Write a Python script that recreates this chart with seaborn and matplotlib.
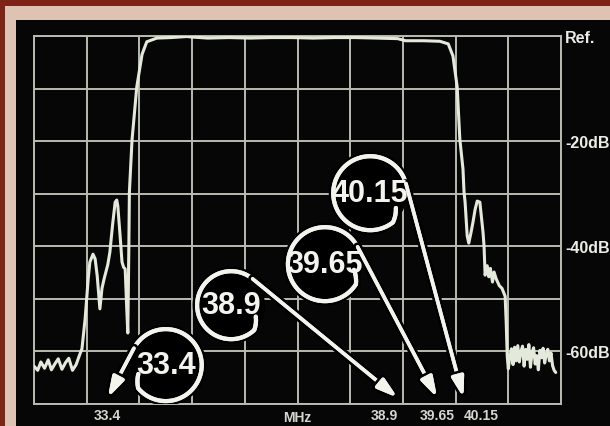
import numpy as np
import pandas as pd
import matplotlib
matplotlib.use("Agg")
import matplotlib.pyplot as plt
import matplotlib.patheffects as pe
from matplotlib.patches import Ellipse, Rectangle
import seaborn as sns

# ---------------- data ----------------
freq_mhz = [
    32.00, 32.07, 32.13, 32.20, 32.27, 32.33, 32.40, 32.46, 32.53, 32.60,
    32.66, 32.73, 32.80, 32.86, 32.91, 32.97, 33.03, 33.06, 33.12, 33.16,
    33.20, 33.25, 33.29, 33.33, 33.40, 33.44, 33.49, 33.54, 33.57, 33.59,
    33.63, 33.67, 33.70, 33.73, 33.76, 33.78, 33.80, 33.81, 33.86, 33.95,
    34.05, 34.14, 34.33, 34.60, 34.90, 35.00, 35.30, 35.70, 36.10, 36.50,
    36.90, 37.30, 37.70, 38.10, 38.50, 38.90, 39.05, 39.40, 39.70, 39.86,
    39.95, 40.03, 40.08, 40.14, 40.16, 40.18, 40.22, 40.25, 40.29, 40.33,
    40.37, 40.41, 40.46, 40.52, 40.54, 40.56, 40.60, 40.63, 40.66, 40.70,
    40.73, 40.77, 40.83, 40.88, 40.94, 40.96, 40.98, 41.00, 41.03, 41.06,
    41.09, 41.12, 41.15, 41.18, 41.21, 41.24, 41.27, 41.30, 41.33, 41.36,
    41.39, 41.42, 41.45, 41.48, 41.51, 41.54, 41.57, 41.60, 41.63, 41.66,
    41.69, 41.72, 41.75, 41.78, 41.81, 41.84, 41.87, 41.90,
]
level_db = [
    -62.8, -63.6, -62.0, -63.2, -61.6, -63.5, -62.3, -61.4, -63.4, -62.1,
    -61.3, -63.6, -62.5, -60.8, -59.5, -53.8, -46.0, -43.0, -41.5, -42.4,
    -45.7, -51.9, -48.0, -46.2, -43.5, -41.1, -36.0, -31.6, -31.2, -32.3,
    -37.5, -43.0, -44.0, -44.3, -51.9, -56.5, -40.0, -29.7, -19.8, -9.7,
    -3.5, -1.1, -0.4, -0.3, -0.1, -0.2, -0.4, -0.3, -0.4, -0.3,
    -0.3, -0.4, -0.3, -0.3, -0.4, -0.5, -0.9, -0.9, -1.0, -1.5,
    -3.8, -9.7, -19.6, -25.3, -29.7, -31.6, -38.0, -39.4, -37.5, -35.4,
    -33.0, -31.4, -31.6, -37.3, -40.0, -45.5, -43.7, -45.8, -44.2, -46.8,
    -44.9, -46.2, -47.5, -48.0, -49.5, -54.4, -60.9, -63.3, -61.0, -59.5,
    -62.5, -59.2, -61.8, -58.9, -62.0, -60.0, -59.0, -62.8, -59.6, -61.5,
    -58.7, -63.0, -60.2, -59.3, -62.4, -60.8, -63.5, -59.8, -61.2, -59.4,
    -62.2, -60.5, -59.6, -61.8, -60.3, -62.7, -63.6, -64.0,
]

tick_freqs = [33.4, 38.9, 39.65, 40.15]
tick_labels = ["33.4", "38.9", "39.65", "40.15"]
unit_label = "MHz"
level_ticks = [0, -20, -40, -60]
level_labels = ["Ref.", "-20dB", "-40dB", "-60dB"]

# call-out bubbles: text, frequency they point to, bubble centre (MHz, dB)
callout_text = ["33.4", "38.9", "39.65", "40.15"]
callout_target = [33.4, 38.9, 39.65, 40.15]
callout_cx = [34.50, 35.74, 37.52, 38.38]
callout_cy = [-62.6, -51.2, -43.4, -29.9]

# ---------------- style ----------------
sns.set_theme(style="dark")
plt.rcParams["font.family"] = ["Liberation Sans", "DejaVu Sans"]

GRID = "#b9bbb0"
TRACE = "#e4eadb"
WHITE = "#f4f4ee"
LABEL = "#d6d6d0"

fig = plt.figure(figsize=(6.10, 4.27), dpi=100, facecolor="#060606")
ax = fig.add_axes([34 / 610, 1 - 405 / 427, 527 / 610, 368 / 427])
ax.set_facecolor("#060606")

# photo frame (red edge + beige mask)
fig.patches.append(Rectangle((0, 0), 1, 1, transform=fig.transFigure,
                             facecolor="#7d2416", edgecolor="none", zorder=-10))
fig.patches.append(Rectangle((5 / 610, 0), 1, 1 - 7 / 427, transform=fig.transFigure,
                             facecolor="#dfc3b2", edgecolor="none", zorder=-9))
fig.patches.append(Rectangle((16 / 610, 0), 1, 1 - 21 / 427, transform=fig.transFigure,
                             facecolor="#060606", edgecolor="none", zorder=-8))

df = pd.DataFrame({"freq": freq_mhz, "level": level_db})
sns.lineplot(data=df, x="freq", y="level", ax=ax, color=TRACE, lw=2.2,
             estimator=None, sort=False, zorder=3)

ax.set_xlim(32, 42)
ax.set_ylim(-70, 0)
ax.set_xlabel("")
ax.set_ylabel("")

ax.set_xticks(np.arange(32, 43, 1))
ax.set_xticklabels([])
ax.set_xticks(tick_freqs, minor=True)
ax.set_xticklabels(tick_labels, minor=True)

yt = np.arange(-70, 1, 10)
ax.set_yticks(yt)
ax.set_yticklabels([level_labels[level_ticks.index(v)] if v in level_ticks else "" for v in yt])
ax.yaxis.tick_right()

ax.grid(True, which="major", color=GRID, lw=1.4)
ax.grid(False, which="minor")
ax.tick_params(which="major", length=0)
ax.tick_params(axis="x", which="minor", length=3, width=1.5, color=GRID, direction="in",
               labelsize=10, labelcolor=LABEL, pad=3)
label_align = ["center", "right", "center", "left"]
for lab, ha in zip(ax.get_xticklabels(minor=True), label_align):
    lab.set_fontweight("bold")
    lab.set_horizontalalignment(ha)
ax.tick_params(axis="y", which="major", labelsize=11.5, labelcolor="#ecece6", pad=3)
for lab in ax.get_yticklabels():
    lab.set_fontweight("bold")
for s in ax.spines.values():
    s.set_visible(True)
    s.set_color(GRID)
    s.set_linewidth(1.4)

ax.text(37.0, -0.015, unit_label, transform=ax.get_xaxis_transform(), ha="center", va="top",
        fontsize=10, fontweight="bold", color=LABEL)

# ---------------- call-out bubbles ----------------
radius_px = [36, 34, 37, 37]
hook_deg = [220, 313, 327, 308]
side = [-1, 1, 1, 1]

o = ax.transData.transform((0, 0))
sx = ax.transData.transform((1, 0))[0] - o[0]
sy = ax.transData.transform((0, 1))[1] - o[1]
halo = [pe.withStroke(linewidth=6.5, foreground="black"), pe.Normal()]

for txt, tgt, cx, cy, r, hk, sd in zip(callout_text, callout_target, callout_cx,
                                        callout_cy, radius_px, hook_deg, side):
    ty = -68.8
    P = np.array(ax.transData.transform((cx, cy)))
    T = np.array(ax.transData.transform((tgt, ty)))
    v = T - P
    d = np.hypot(v[0], v[1])
    phi = np.degrees(np.arctan2(v[1], v[0]))
    alpha = np.degrees(np.arccos(r / d))
    tang = phi + sd * alpha
    if sd > 0:
        a1, a2 = tang, hk
        while a2 < a1:
            a2 += 360
        ang = np.concatenate([np.linspace(a1, a2, 120), np.linspace(a2, a2 + 22, 12)])
        rad = np.concatenate([np.full(120, r), np.linspace(r, 0.8 * r, 12)])
    else:
        a1, a2 = hk, tang
        while a2 < a1:
            a2 += 360
        ang = np.concatenate([np.linspace(a1 - 22, a1, 12), np.linspace(a1, a2, 120)])
        rad = np.concatenate([np.linspace(0.8 * r, r, 12), np.full(120, r)])
    th = np.radians(ang)
    xs = cx + rad * np.cos(th) / sx
    ys = cy + rad * np.sin(th) / sy
    ax.add_patch(Ellipse((cx, cy), 2 * r / sx, 2 * r / sy, facecolor="black",
                         edgecolor="none", zorder=5))
    ln, = ax.plot(xs, ys, color=WHITE, lw=3.0, solid_capstyle="round", zorder=6)
    ln.set_path_effects(halo)
    tx0 = cx + r * np.cos(np.radians(tang)) / sx
    ty0 = cy + r * np.sin(np.radians(tang)) / sy
    ann = ax.annotate("", xy=(tgt, ty), xytext=(tx0, ty0),
                      arrowprops=dict(arrowstyle="-|>,head_length=1.0,head_width=0.3",
                                      color=WHITE, lw=2.6, shrinkA=0, shrinkB=0,
                                      mutation_scale=12),
                      zorder=6)
    ann.arrow_patch.set_path_effects(halo)
    ax.text(cx, cy, txt, ha="center", va="center", fontsize=22, fontweight="bold",
            color=WHITE, zorder=7)

fig.savefig("out.png", dpi=100, facecolor=fig.get_facecolor())
